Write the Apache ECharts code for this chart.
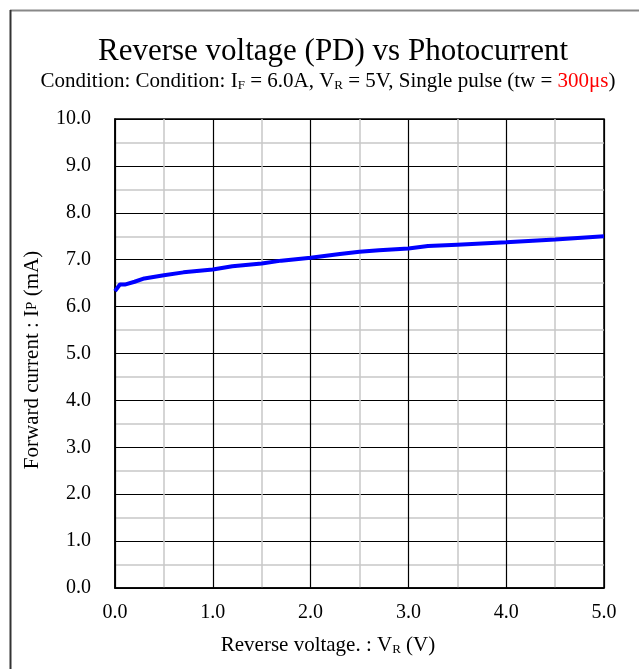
<!DOCTYPE html>
<html>
<head>
<meta charset="utf-8">
<script src="https://cdn.jsdelivr.net/npm/echarts@6/dist/echarts.min.js"></script>
<style>
html,body{margin:0;padding:0;background:#fff;}
#chart{width:639px;height:669px;}
</style>
</head>
<body>
<div id="chart"></div>
<script>
// Reverse voltage (V)
const voltage = [0, 0.05, 0.1, 0.2, 0.3, 0.5, 0.7, 1.0, 1.2, 1.5, 1.7, 2.0, 2.3, 2.5, 2.7, 3.0, 3.2, 3.5, 4.0, 4.5, 5.0];
// Photocurrent IP (mA)
const photocurrent = [6.33, 6.47, 6.47, 6.53, 6.60, 6.67, 6.73, 6.79, 6.86, 6.92, 6.98, 7.04, 7.12, 7.17, 7.20, 7.24, 7.29, 7.32, 7.37, 7.43, 7.50];
const xTicks = [0, 1, 2, 3, 4, 5];
const yTicks = [0, 1, 2, 3, 4, 5, 6, 7, 8, 9, 10];

const FONT = '"Liberation Serif","Times New Roman",serif';
const chart = echarts.init(document.getElementById('chart'), null, {renderer: 'canvas'});
const seriesData = voltage.map((v, i) => [v, photocurrent[i]]);

chart.setOption({
  animation: false,
  backgroundColor: '#fff',
  title: [
    {
      text: 'Reverse voltage (PD) vs Photocurrent',
      left: 328, top: 31, textAlign: 'center',
      textStyle: {fontFamily: FONT, fontSize: 31, fontWeight: 'normal', color: '#000'}
    },
    {
      text: 'Condition: Condition: I{sub|F} = 6.0A, V{sub|R} = 5V, Single pulse (tw = {red|300μs})',
      left: 323, top: 65, textAlign: 'center',
      textStyle: {
        fontFamily: FONT, fontSize: 21, fontWeight: 'normal', color: '#000',
        rich: {
          sub: {fontFamily: FONT, fontSize: 13, color: '#000', verticalAlign: 'bottom', padding: [9, 0, 0, 0]},
          red: {fontFamily: FONT, fontSize: 21, color: '#ff0000'}
        }
      }
    }
  ],
  graphic: [
    {type: 'line', shape: {x1: 10, y1: 10.5, x2: 639, y2: 10.5}, style: {stroke: '#888', lineWidth: 2}, silent: true},
    {type: 'line', shape: {x1: 10.5, y1: 10, x2: 10.5, y2: 669}, style: {stroke: '#333', lineWidth: 2}, silent: true},
    {type: 'text', x: 328, y: 645, silent: true,
      style: {text: 'Reverse voltage. : V{sub|R} (V)', fontFamily: FONT, fontSize: 21, fill: '#000',
        align: 'center', verticalAlign: 'middle',
        rich: {sub: {fontFamily: FONT, fontSize: 13, fill: '#000', verticalAlign: 'bottom', padding: [9, 0, 0, 0]}}}},
    {type: 'text', x: 32, y: 360, rotation: Math.PI / 2, silent: true,
      style: {text: 'Forward current : I{sc|P} (mA)', fontFamily: FONT, fontSize: 21, fill: '#000',
        align: 'center', verticalAlign: 'middle',
        rich: {sc: {fontFamily: FONT, fontSize: 15, fill: '#000'}}}}
  ],
  grid: {left: 115, top: 119, right: 35, bottom: 81, show: true, borderColor: '#000', borderWidth: 1.5},
  xAxis: {
    type: 'value', min: xTicks[0], max: xTicks[xTicks.length - 1], interval: 1,
    axisLine: {show: true, lineStyle: {color: '#000', width: 1.5}},
    axisTick: {show: false},
    minorTick: {show: false, splitNumber: 2},
    minorSplitLine: {show: true, lineStyle: {color: '#c8c8c8', width: 1.5}},
    splitLine: {show: true, lineStyle: {color: '#000', width: 1.2}},
    axisLabel: {fontFamily: FONT, fontSize: 20, color: '#000', margin: 15, formatter: v => v.toFixed(1)}
  },
  yAxis: {
    type: 'value', min: yTicks[0], max: yTicks[yTicks.length - 1], interval: 1,
    axisLine: {show: true, lineStyle: {color: '#000', width: 1.5}},
    axisTick: {show: false},
    minorTick: {show: false, splitNumber: 2},
    minorSplitLine: {show: true, lineStyle: {color: '#c8c8c8', width: 1.5}},
    splitLine: {show: true, lineStyle: {color: '#000', width: 1.2}},
    axisLabel: {fontFamily: FONT, fontSize: 20, color: '#000', margin: 24, formatter: v => v.toFixed(1)}
  },
  series: [{
    type: 'line',
    data: seriesData,
    showSymbol: false,
    symbol: 'none',
    lineStyle: {color: '#0000ff', width: 4},
    z: 5
  }]
});
</script>
</body>
</html>
